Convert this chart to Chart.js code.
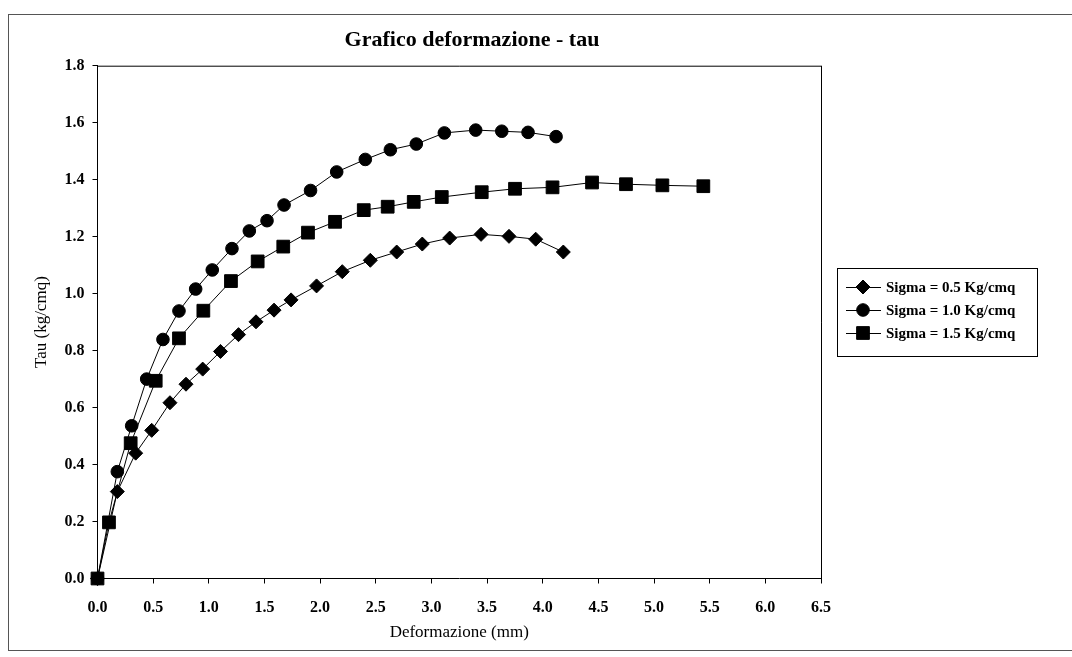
<!DOCTYPE html>
<html><head><meta charset="utf-8">
<script src="https://cdn.jsdelivr.net/npm/chart.js@4"></script>
<style>html,body{margin:0;padding:0;background:#fff}</style>
</head><body>
<canvas id="c" width="1072" height="657"></canvas>
<script>
const chartTitle = "Grafico deformazione - tau";
const xAxisTitle = "Deformazione (mm)";
const yAxisTitle = "Tau (kg/cmq)";
const seriesNames = ["Sigma = 0.5 Kg/cmq", "Sigma = 1.0 Kg/cmq", "Sigma = 1.5 Kg/cmq"];
const seriesMarkers = ["rectRot", "circle", "rect"];

const sigma05X = [0, 0.178, 0.343, 0.487, 0.651, 0.795, 0.945, 1.105, 1.267, 1.424, 1.586, 1.739, 1.968, 2.199, 2.451, 2.688, 2.918, 3.164, 3.446, 3.697, 3.937, 4.185];
const sigma05Y = [0, 0.305, 0.440, 0.520, 0.617, 0.682, 0.735, 0.797, 0.856, 0.901, 0.942, 0.978, 1.027, 1.077, 1.117, 1.146, 1.174, 1.195, 1.208, 1.201, 1.191, 1.146];

const sigma10X = [0, 0.178, 0.307, 0.442, 0.588, 0.732, 0.882, 1.031, 1.208, 1.364, 1.523, 1.676, 1.914, 2.149, 2.406, 2.631, 2.864, 3.116, 3.398, 3.632, 3.868, 4.120];
const sigma10Y = [0, 0.375, 0.536, 0.700, 0.839, 0.939, 1.016, 1.083, 1.158, 1.220, 1.256, 1.311, 1.362, 1.427, 1.471, 1.505, 1.525, 1.564, 1.574, 1.570, 1.566, 1.551];

const sigma15X = [0, 0.103, 0.298, 0.523, 0.732, 0.951, 1.199, 1.439, 1.669, 1.891, 2.134, 2.392, 2.607, 2.841, 3.093, 3.452, 3.751, 4.088, 4.443, 4.748, 5.075, 5.443];
const sigma15Y = [0, 0.197, 0.475, 0.694, 0.843, 0.940, 1.044, 1.113, 1.165, 1.214, 1.252, 1.293, 1.305, 1.322, 1.339, 1.356, 1.368, 1.373, 1.390, 1.384, 1.380, 1.377];

const xTickMin = 0, xTickMax = 6.5, xTickStep = 0.5;
const yTickMin = 0, yTickMax = 1.8, yTickStep = 0.2;

const FONT = "'Liberation Serif', 'DejaVu Serif', serif";

function pts(xs, ys) { return xs.map((x, i) => ({ x: x, y: ys[i] })); }
const seriesData = [pts(sigma05X, sigma05Y), pts(sigma10X, sigma10Y), pts(sigma15X, sigma15Y)];
const radii = { rectRot: 7, circle: 6.3, rect: 9 };

function drawMarker(ctx, style, x, y) {
  ctx.beginPath();
  if (style === 'rectRot') {
    const r = radii.rectRot;
    ctx.moveTo(x, y - r); ctx.lineTo(x + r, y); ctx.lineTo(x, y + r); ctx.lineTo(x - r, y); ctx.closePath();
  } else if (style === 'circle') {
    ctx.arc(x, y, radii.circle, 0, Math.PI * 2);
  } else {
    const s = radii.rect * Math.SQRT1_2;
    ctx.rect(x - s, y - s, 2 * s, 2 * s);
  }
  ctx.fill(); ctx.stroke();
}

const decor = {
  id: 'decor',
  afterDraw(chart) {
    const ctx = chart.ctx, a = chart.chartArea;
    ctx.save();
    ctx.strokeStyle = '#000'; ctx.lineWidth = 1;
    ctx.beginPath();
    ctx.moveTo(a.left, a.top + 0.5); ctx.lineTo(a.right, a.top + 0.5);
    ctx.moveTo(a.right + 0.5, a.top); ctx.lineTo(a.right + 0.5, a.bottom);
    ctx.stroke();
    ctx.strokeStyle = '#555';
    ctx.beginPath();
    ctx.moveTo(8.5, 14); ctx.lineTo(8.5, 650);
    ctx.moveTo(8, 14.5); ctx.lineTo(1072, 14.5);
    ctx.moveTo(8, 650.5); ctx.lineTo(1072, 650.5);
    ctx.stroke();
    ctx.fillStyle = '#000';
    ctx.font = "bold 22px " + FONT;
    ctx.textAlign = 'center'; ctx.textBaseline = 'middle';
    ctx.fillText(chartTitle, 472, 40);
    const lx = 837, ly = 268, lw = 200, lh = 88;
    ctx.strokeStyle = '#000'; ctx.lineWidth = 1;
    ctx.strokeRect(lx + 0.5, ly + 0.5, lw, lh);
    ctx.font = "bold 15px " + FONT;
    ctx.textAlign = 'left';
    chart.data.datasets.forEach((ds, i) => {
      const y = 287 + i * 23;
      ctx.strokeStyle = '#000'; ctx.fillStyle = '#000';
      ctx.beginPath(); ctx.moveTo(846, y + 0.5); ctx.lineTo(881, y + 0.5); ctx.stroke();
      drawMarker(ctx, ds.pointStyle, 863, y);
      ctx.fillText(ds.label, 886, y + 1);
    });
    ctx.restore();
  }
};

const datasets = seriesNames.map((name, i) => ({
  label: name,
  data: seriesData[i],
  borderColor: '#000',
  backgroundColor: '#000',
  borderWidth: 1,
  pointStyle: seriesMarkers[i],
  pointRadius: radii[seriesMarkers[i]],
  pointBorderWidth: 1,
  pointBackgroundColor: '#000',
  pointBorderColor: '#000',
  tension: 0,
  fill: false,
  clip: false
}));

new Chart(document.getElementById('c'), {
  type: 'line',
  data: { datasets: datasets },
  plugins: [decor],
  options: {
    responsive: false,
    animation: false,
    events: [],
    layout: { padding: { top: 65.7, left: 22, right: 251, bottom: 9.8 } },
    plugins: { legend: { display: false }, title: { display: false }, tooltip: { enabled: false } },
    scales: {
      x: {
        type: 'linear', min: xTickMin, max: xTickMax,
        ticks: { stepSize: xTickStep, autoSkip: false, maxRotation: 0, color: '#000', padding: 15,
          font: { family: FONT, size: 16, weight: 'bold' }, callback: v => Number(v).toFixed(1) },
        grid: { display: true, drawOnChartArea: false, drawTicks: true, tickLength: 5, color: '#000' },
        border: { display: true, color: '#000', width: 1 },
        title: { display: true, text: xAxisTitle, color: '#000', font: { family: FONT, size: 17 }, padding: { top: 4, bottom: 4 } },
        afterFit: s => { s.height = 68.7; }
      },
      y: {
        type: 'linear', min: yTickMin, max: yTickMax,
        ticks: { stepSize: yTickStep, color: '#000', padding: 8,
          font: { family: FONT, size: 16, weight: 'bold' }, callback: v => Number(v).toFixed(1) },
        grid: { display: true, drawOnChartArea: false, drawTicks: true, tickLength: 5, color: '#000' },
        border: { display: true, color: '#000', width: 1 },
        title: { display: true, text: yAxisTitle, color: '#000', font: { family: FONT, size: 17 }, padding: { top: 9, bottom: 0 } },
        afterFit: s => { s.width = 75.5; }
      }
    }
  }
});
</script>
</body></html>
